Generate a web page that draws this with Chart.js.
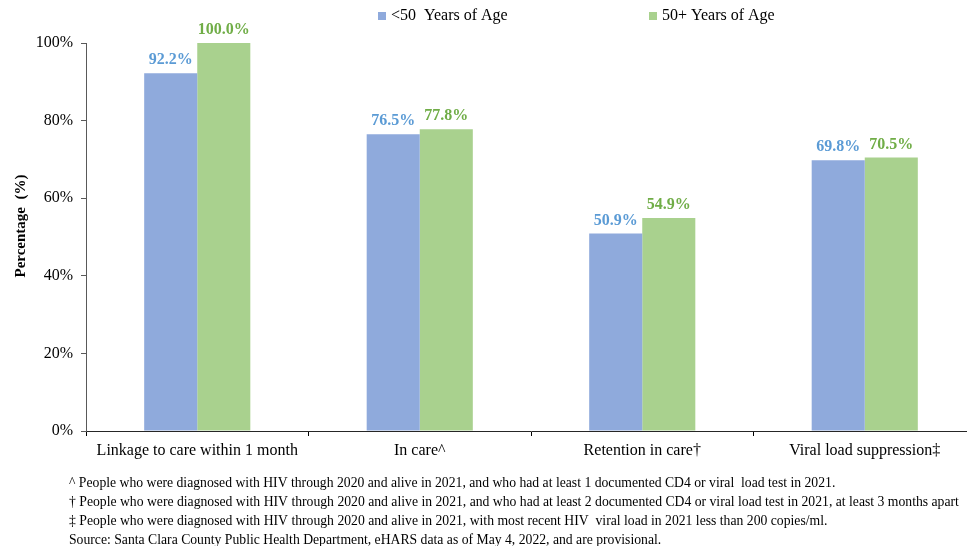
<!DOCTYPE html>
<html>
<head>
<meta charset="utf-8">
<script src="https://cdn.jsdelivr.net/npm/chart.js@4"></script>
<style>
  html, body { margin: 0; padding: 0; background: #fff; overflow: hidden; }
  #wrap { position: relative; width: 976px; height: 546px; }
</style>
</head>
<body>
<div id="wrap"><canvas id="c"></canvas></div>
<script>
// HIV care continuum by age group, Santa Clara County
const categories = ['Linkage to care within 1 month', 'In care^', 'Retention in care\u2020', 'Viral load suppression\u2021'];
const under50 = [92.2, 76.5, 50.9, 69.8];
const over50 = [100.0, 77.8, 54.9, 70.5];
const seriesNames = ['<50  Years of Age', '50+ Years of Age'];
const yTicks = [0, 20, 40, 60, 80, 100];
const yTitle = 'Percentage  (%)';
const footnotes = [
  '^ People who were diagnosed with HIV through 2020 and alive in 2021, and who had at least 1 documented CD4 or viral  load test in 2021.',
  '\u2020 People who were diagnosed with HIV through 2020 and alive in 2021, and who had at least 2 documented CD4 or viral load test in 2021, at least 3 months apart',
  '\u2021 People who were diagnosed with HIV through 2020 and alive in 2021, with most recent HIV  viral load in 2021 less than 200 copies/ml.',
  'Source: Santa Clara County Public Health Department, eHARS data as of May 4, 2022, and are provisional.'
];

const SERIF = '"Liberation Serif", "Times New Roman", serif';
const barColors = ['#8FAADC', '#A9D18E'];
const labelColors = ['#5B9BD5', '#70AD47'];

// value labels above each bar
const valueLabels = {
  id: 'valueLabels',
  afterDatasetsDraw(chart) {
    const ctx = chart.ctx;
    ctx.save();
    ctx.font = 'bold 16px ' + SERIF;
    ctx.textAlign = 'center';
    ctx.textBaseline = 'bottom';
    chart.data.datasets.forEach((ds, i) => {
      const meta = chart.getDatasetMeta(i);
      ctx.fillStyle = labelColors[i];
      meta.data.forEach((bar, j) => {
        ctx.fillText(ds.data[j].toFixed(1) + '%', bar.x, bar.y - 5);
      });
    });
    ctx.restore();
  }
};

// legend row, axis title and footnotes
const extras = {
  id: 'extras',
  afterDraw(chart) {
    const ctx = chart.ctx;
    ctx.save();
    ctx.font = '16px ' + SERIF;
    ctx.textBaseline = 'middle';
    ctx.textAlign = 'left';
    const legendX = [378, 649];
    chart.data.datasets.forEach((ds, i) => {
      ctx.fillStyle = barColors[i];
      ctx.fillRect(legendX[i], 12, 8, 8);
      ctx.fillStyle = '#000';
      ctx.fillText(ds.label, legendX[i] + 13, 16);
    });

    ctx.save();
    ctx.translate(21, 226);
    ctx.rotate(-Math.PI / 2);
    ctx.textAlign = 'center';
    ctx.font = 'bold 15px ' + SERIF;
    ctx.fillText(yTitle, 0, 0);
    ctx.restore();

    ctx.font = '13.7px ' + SERIF;
    footnotes.forEach((t, k) => {
      ctx.fillText(t, 69, 483 + k * 19);
    });
    ctx.restore();
  }
};

new Chart(document.getElementById('c'), {
  type: 'bar',
  data: {
    labels: categories,
    datasets: [
      { label: seriesNames[0], data: under50, backgroundColor: barColors[0] },
      { label: seriesNames[1], data: over50, backgroundColor: barColors[1] }
    ]
  },
  options: {
    responsive: true,
    maintainAspectRatio: false,
    animation: false,
    devicePixelRatio: 1,
    layout: { padding: { top: 43, left: 0, right: 0, bottom: 0 } },
    datasets: { bar: { barPercentage: 1, categoryPercentage: 0.477 } },
    plugins: { legend: { display: false }, tooltip: { enabled: false } },
    scales: {
      x: {
        grid: { drawOnChartArea: false, tickLength: 5, color: '#000', offset: true },
        border: { color: '#262626', width: 1 },
        ticks: { color: '#000', font: { family: SERIF, size: 16 }, padding: 5, maxRotation: 0, autoSkip: false },
        afterFit(scale) { scale.height = 115; }
      },
      y: {
        min: 0, max: 100,
        afterBuildTicks(scale) { scale.ticks = yTicks.map(v => ({ value: v })); },
        grid: { drawOnChartArea: false, tickLength: 5, color: '#595959' },
        border: { color: '#595959', width: 1 },
        ticks: { color: '#000', font: { family: SERIF, size: 16 }, padding: 8, callback: v => v + '%' },
        afterFit(scale) { scale.width = 86; }
      }
    }
  },
  plugins: [valueLabels, extras]
});
</script>
</body>
</html>
